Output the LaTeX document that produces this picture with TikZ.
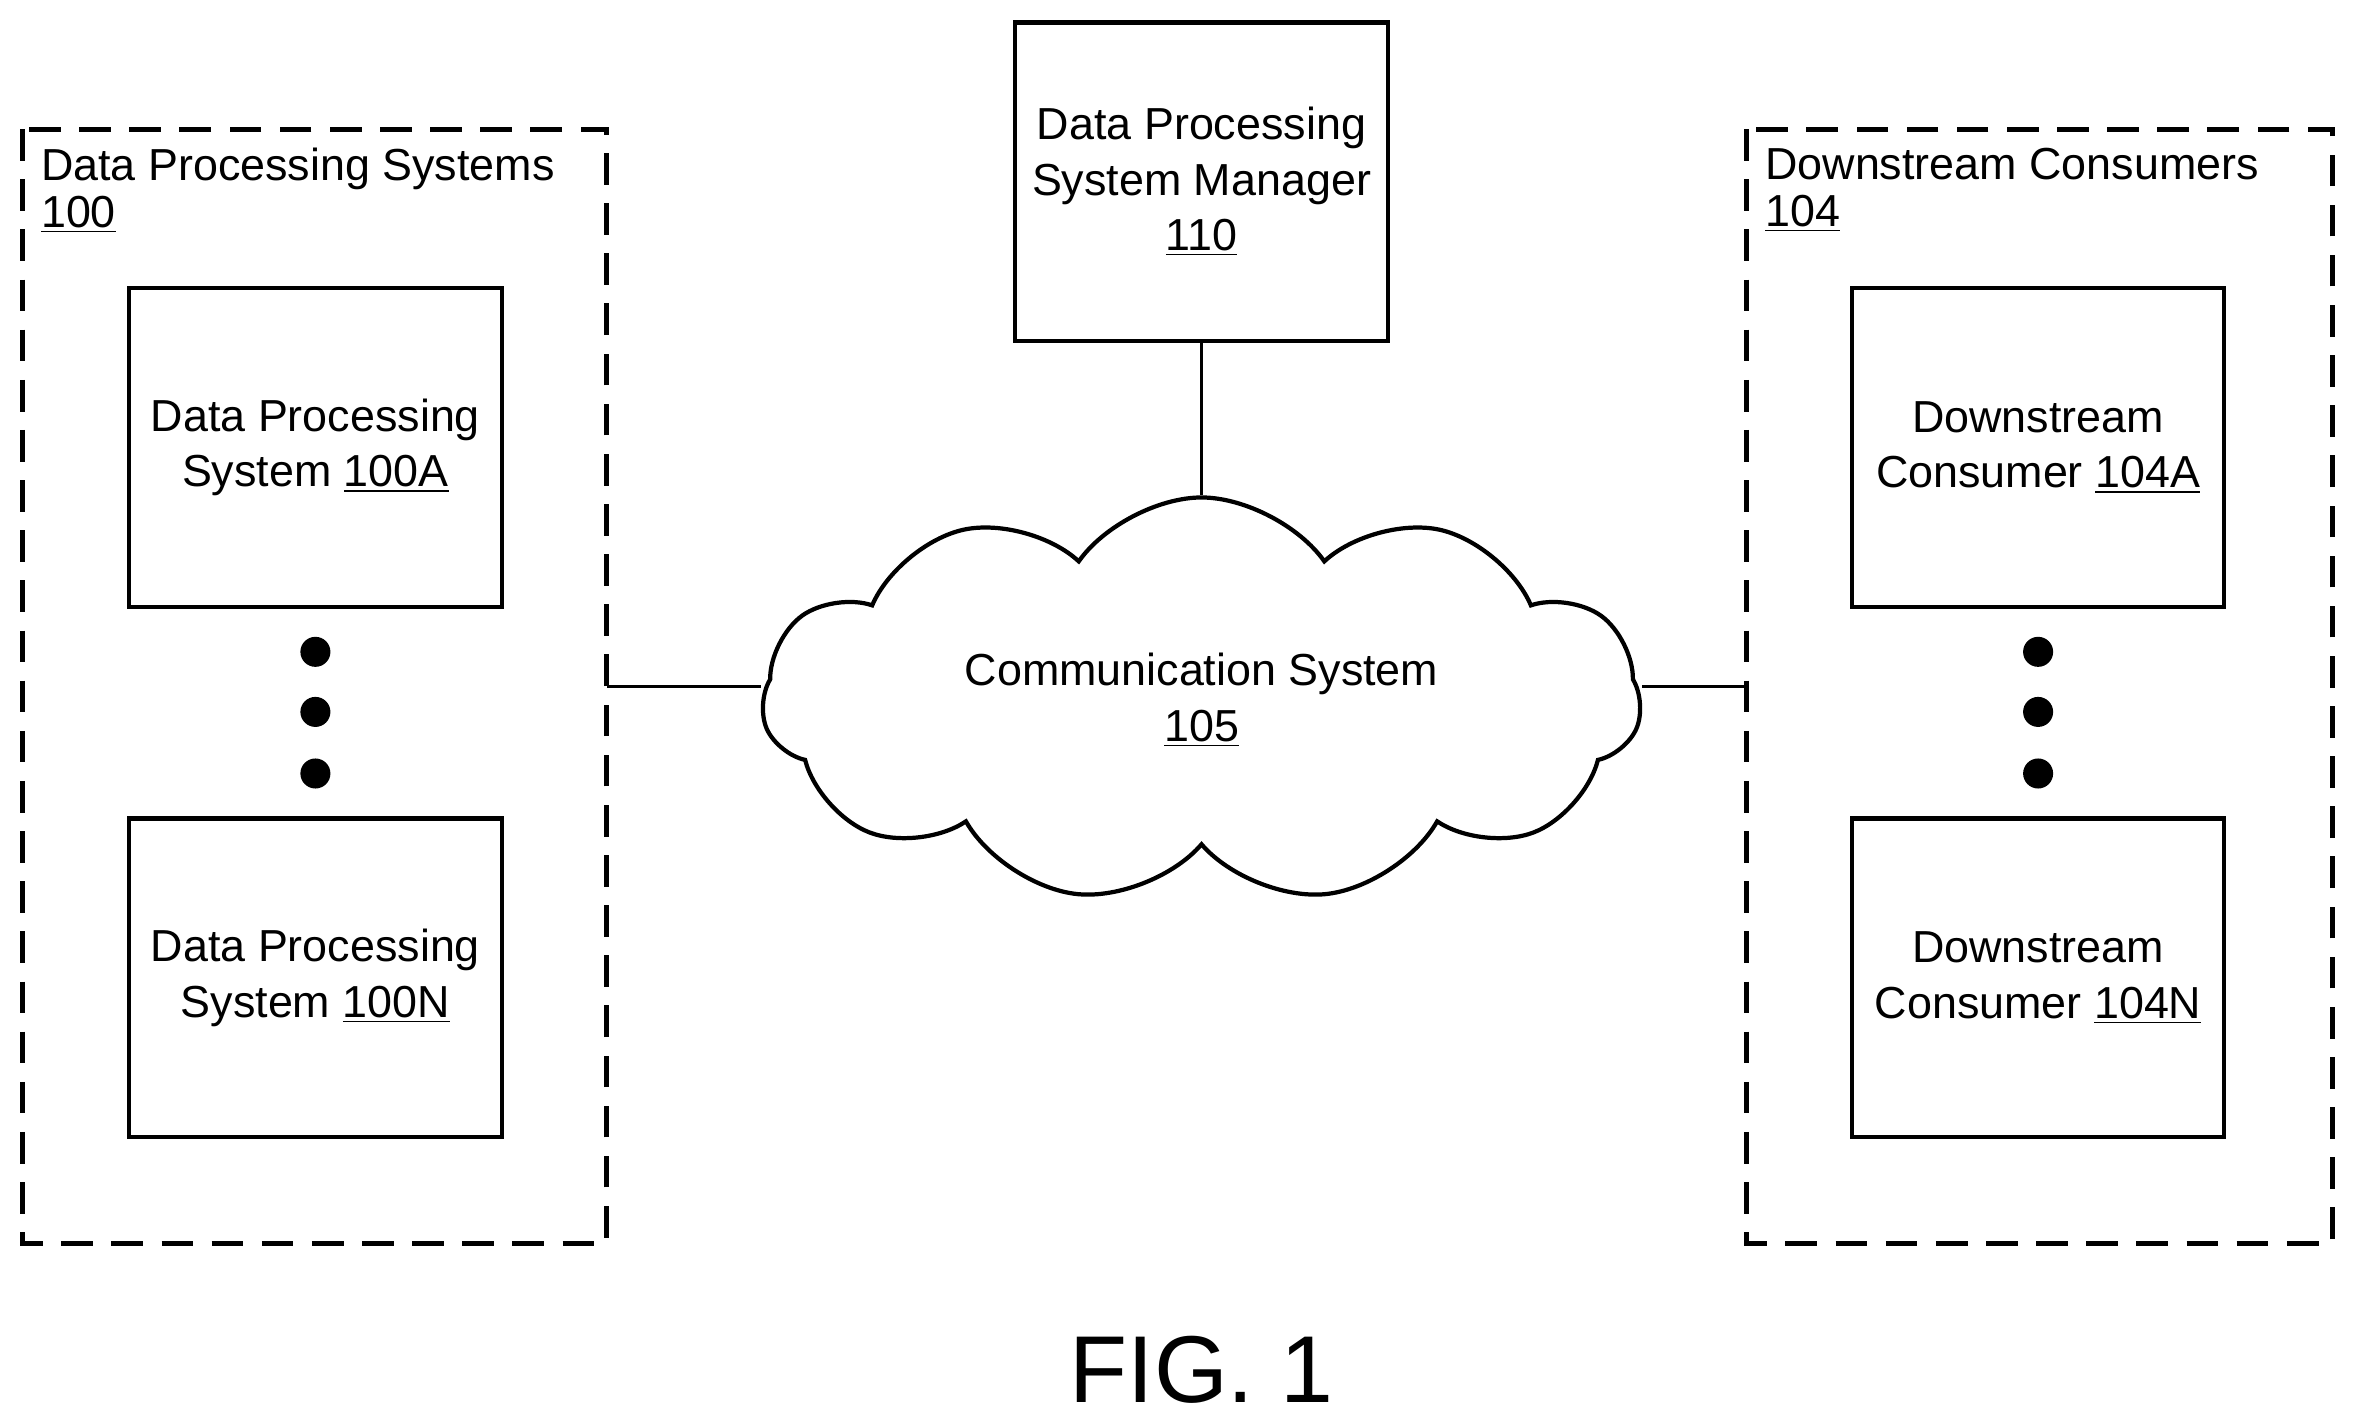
\documentclass[tikz,border=0pt]{standalone}
\usepackage{fontspec}
\setmainfont{Liberation Sans}
\usetikzlibrary{shapes.symbols,positioning}
\newcommand\dptext{\fontsize{17}{21}\selectfont}
\newcommand\dpunit{0.02}
\tikzset{
  dpbox/.style={draw, line width=1.6pt, minimum width=248*\dpunit cm, minimum height=212*\dpunit cm, align=center, font=\dptext},
  dpgroup/.style={draw, line width=1.8pt, dash pattern=on 12pt off 7pt},
  dpdot/.style={circle, fill=black, inner sep=0pt, minimum size=20*\dpunit cm},
  dplink/.style={line width=1.4pt}
}
\begin{document}
\begin{tikzpicture}[x=\dpunit cm, y=-\dpunit cm]
    \useasboundingbox (0,0) rectangle (1568,950);
    % groups
    \draw[dpgroup] (15,86) rectangle (404,828);
    \draw[dpgroup] (1163,86) rectangle (1553,828);
    \node[anchor=north west, align=left, font=\dptext, inner sep=0pt] (dpsl) at (27,98)
      {Data Processing Systems\\[-3pt]\underline{100}};
    \node[anchor=north west, align=left, font=\dptext, inner sep=0pt] (dcl) at (1175,98)
      {Downstream Consumers\\[-3pt]\underline{104}};
    \coordinate (dpsedge) at (404,457);
    \coordinate (dcedge) at (1163,457);
    % left column
    \node[dpbox] (dpsa) at (210,298) {Data Processing\\System \underline{100A}};
    \node[dpbox] (dpsn) at (210,651) {Data Processing\\System \underline{100N}};
    \foreach \y in {434,474,515} \node[dpdot] at (210,\y) {};
    % right column
    \node[dpbox] (dca) at (1357,298) {Downstream\\Consumer \underline{104A}};
    \node[dpbox] (dcn) at (1357,651) {Downstream\\Consumer \underline{104N}};
    \foreach \y in {434,474,515} \node[dpdot] at (1357,\y) {};
    % manager and network
    \node[dpbox] (mgr) at (800,121) {Data Processing\\System Manager\\\underline{110}};
    \node[draw, cloud, cloud puffs=11, cloud puff arc=110, aspect=2.2, line width=1.6pt,
      minimum width=585*\dpunit cm, minimum height=267*\dpunit cm, align=center, font=\dptext]
      (net) at (800,466) {Communication System\\\underline{105}};
    \draw[dplink] (mgr.south) -- (net.north);
    \draw[dplink] (dpsedge) -- (net.west |- dpsedge);
    \draw[dplink] (net.east |- dcedge) -- (dcedge);
    \node[font=\fontsize{36}{40}\selectfont] (fig) at (800,912) {FIG. 1};
\end{tikzpicture}
\end{document}
